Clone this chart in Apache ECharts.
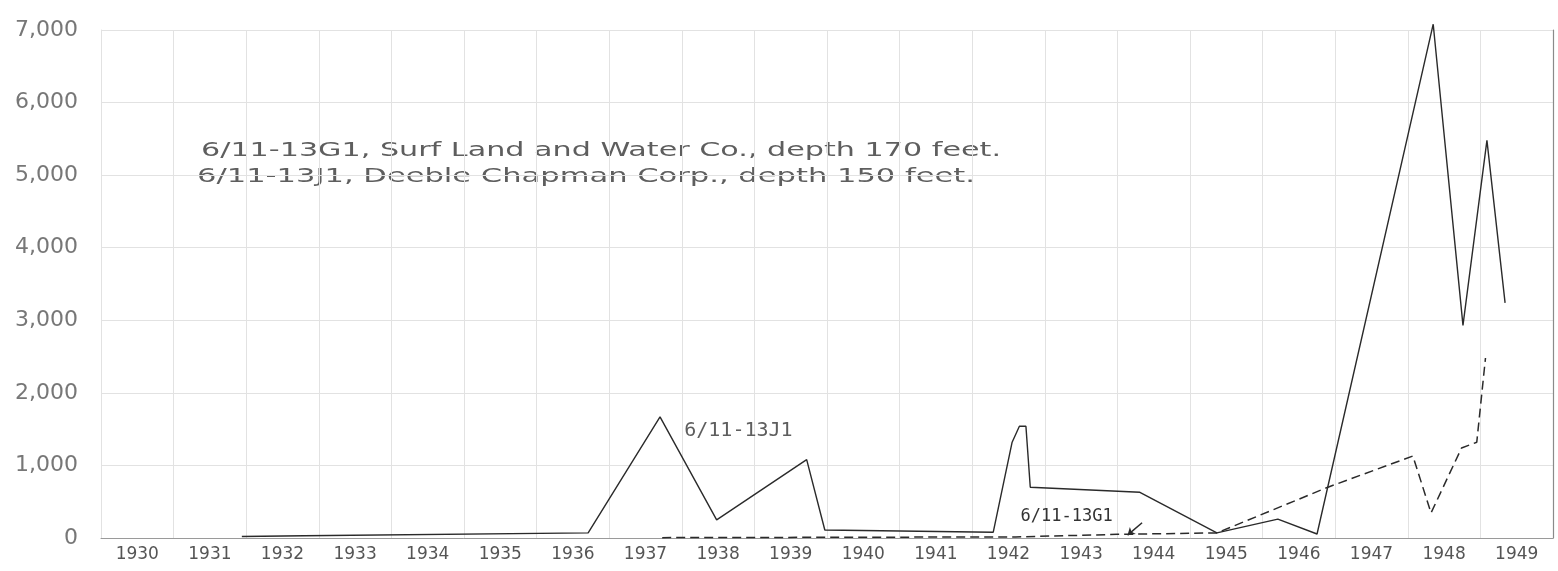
<!DOCTYPE html>
<html>
<head>
<meta charset="utf-8">
<script src="https://cdn.jsdelivr.net/npm/echarts@6/dist/echarts.min.js"></script>
<style>
  html, body { margin: 0; padding: 0; background: #ffffff; }
  #chart { width: 1558px; height: 571px; }
</style>
</head>
<body>
<div id="chart"></div>
<script>
// years shown under the axis (label sits in the middle of each year)
const yearLabels = ['1930', '1931', '1932', '1933', '1934', '1935', '1936', '1937', '1938', '1939',
  '1940', '1941', '1942', '1943', '1944', '1945', '1946', '1947', '1948', '1949'];

// 6/11-13J1 (solid) : [decimal year, value]
const wellJ1 = [
  [1931.94, 20], [1932.8, 30], [1936.71, 70], [1937.70, 1670], [1938.48, 250],
  [1939.72, 1080], [1939.97, 110], [1942.29, 80], [1942.55, 1320], [1942.65, 1540],
  [1942.74, 1540], [1942.80, 700], [1944.31, 630], [1945.37, 70], [1946.21, 260],
  [1946.75, 55], [1948.35, 7080], [1948.76, 2930], [1949.09, 5480], [1949.34, 3240]
];

// 6/11-13G1 (dashed)
const wellG1 = [
  [1937.73, 5], [1942.6, 15], [1944.0, 50], [1945.37, 70], [1946.90, 700],
  [1948.07, 1130], [1948.32, 345], [1948.74, 1240], [1948.95, 1320], [1949.07, 2480]
];

const noteLines = [
  '6/11-13G1, Surf Land and Water Co., depth 170 feet.',
  '6/11-13J1, Deeble Chapman Corp., depth 150 feet.'
];

const ink = '#2a2a2a';
const grey = '#5e5e5e';
const noteFont = '20px "DejaVu Sans"';

// the hand lettering is wider than any installed face, so stretch it a bit
function stretchFor(text, targetWidth) {
  const ctx = document.createElement('canvas').getContext('2d');
  ctx.font = noteFont;
  return targetWidth / ctx.measureText(text).width;
}

const chart = echarts.init(document.getElementById('chart'));

const option = {
  animation: false,
  backgroundColor: '#ffffff',
  grid: { left: 101, right: 5, top: 30, bottom: 33 },
  xAxis: [
    {
      type: 'value',
      min: 1930, max: 1950, interval: 1,
      axisLabel: { show: false },
      axisTick: { show: false },
      axisLine: { show: true, lineStyle: { color: '#9a9a9a', width: 1 } },
      splitLine: { show: true, lineStyle: { color: '#e2e2e2', width: 1 } }
    },
    {
      type: 'category',
      position: 'bottom',
      data: yearLabels,
      boundaryGap: true,
      axisLine: { show: false },
      axisTick: { show: false },
      splitLine: { show: false },
      axisLabel: {
        margin: 8,
        fontFamily: 'DejaVu Sans',
        fontSize: 17,
        color: '#555'
      }
    }
  ],
  yAxis: [
    {
      type: 'value',
      min: 0, max: 7000, interval: 1000,
      axisLine: { show: true, lineStyle: { color: '#e2e2e2' } },
      axisTick: { show: false },
      splitLine: { show: true, lineStyle: { color: '#e2e2e2', width: 1 } },
      axisLabel: {
        margin: 23,
        fontFamily: 'DejaVu Sans',
        fontSize: 22,
        color: '#777',
        formatter: v => v.toLocaleString('en-US')
      }
    },
    {
      type: 'value',
      position: 'right',
      min: 0, max: 7000, interval: 1000,
      axisLine: { show: true, lineStyle: { color: '#8a8a8a', width: 1.2 } },
      axisTick: { show: false },
      axisLabel: { show: false },
      splitLine: { show: false }
    }
  ],
  graphic: [
    {
      type: 'text', left: 201, top: 141, scaleX: stretchFor(noteLines[0], 800),
      style: { text: noteLines[0], font: noteFont, fill: grey }
    },
    {
      type: 'text', left: 197, top: 167, scaleX: stretchFor(noteLines[1], 778),
      style: { text: noteLines[1], font: noteFont, fill: grey }
    }
  ],
  series: [
    {
      name: '6/11-13J1',
      type: 'line',
      data: wellJ1,
      clip: false,
      showSymbol: false,
      lineStyle: { color: ink, width: 1.4 },
      markPoint: {
        symbol: 'circle', symbolSize: 0,
        label: {
          show: true, position: 'inside',
          fontFamily: 'DejaVu Sans Mono', fontSize: 20, color: grey,
          formatter: '{b}'
        },
        data: [{ name: '6/11-13J1', coord: [1938.78, 1480] }]
      }
    },
    {
      name: '6/11-13G1',
      type: 'line',
      data: wellG1,
      clip: false,
      showSymbol: false,
      lineStyle: { color: ink, width: 1.5, type: [9, 5] },
      markPoint: {
        symbol: 'circle', symbolSize: 0,
        label: {
          show: true, position: 'inside',
          fontFamily: 'DejaVu Sans Mono', fontSize: 17, color: '#333',
          formatter: '{b}'
        },
        data: [{ name: '6/11-13G1', coord: [1943.3, 290] }]
      },
      markLine: {
        silent: true,
        symbol: ['none', 'arrow'],
        symbolSize: 7,
        label: { show: false },
        lineStyle: { color: ink, width: 1.5, type: 'solid' },
        data: [[{ coord: [1944.34, 210] }, { coord: [1944.14, 40] }]]
      }
    }
  ]
};

chart.setOption(option);
</script>
</body>
</html>
